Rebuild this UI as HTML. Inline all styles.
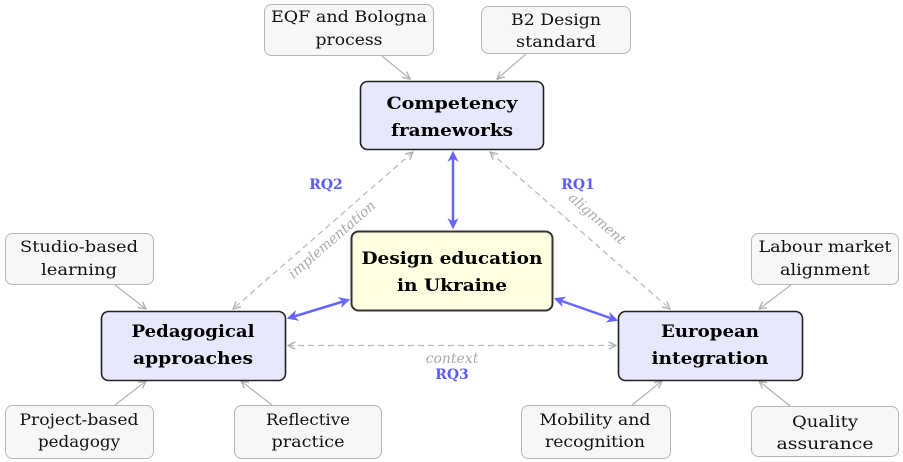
<!DOCTYPE html>
<html><head><meta charset="utf-8"><style>
html,body{margin:0;padding:0;background:#fff;}
svg{display:block;}
text{font-family:"DejaVu Serif","Liberation Serif",serif;text-anchor:middle;}
.s{font-size:16px;fill:#111;}
.b{font-size:17px;font-weight:bold;fill:#000;}
.rq{font-size:14px;font-weight:bold;fill:#5a5aff;}
.it{font-size:14px;font-style:italic;fill:#aaa;}
</style></head><body>
<svg width="903" height="462" viewBox="0 0 903 462" xmlns="http://www.w3.org/2000/svg">
<defs>
<marker id="g" viewBox="0 0 10 10" refX="9" refY="5" markerWidth="7" markerHeight="7" orient="auto-start-reverse"><path d="M1,1 L9,5 L1,9" fill="none" stroke="#b0b0b0" stroke-width="1.5"/></marker>
<marker id="bl" viewBox="0 0 10 10" refX="8" refY="5" markerWidth="4.5" markerHeight="4.5" orient="auto-start-reverse"><path d="M0,0 L10,5 L0,10 L3,5 Z" fill="#6666ff"/></marker>
</defs>
<g fill="#f7f7f7" stroke="#b5b5b5" stroke-width="1">
<rect x="264.5" y="4.5" width="169" height="51" rx="7"/>
<rect x="481.5" y="6.5" width="149" height="47" rx="7"/>
<rect x="5.5" y="233.5" width="148" height="51" rx="7"/>
<rect x="751.5" y="233.5" width="147" height="51" rx="7"/>
<rect x="5.5" y="405.5" width="148" height="53" rx="7"/>
<rect x="234.5" y="405.5" width="147" height="53" rx="7"/>
<rect x="521.5" y="405.5" width="149" height="53" rx="7"/>
<rect x="751.5" y="406.5" width="147" height="50" rx="7"/>
</g>
<g stroke="#b5b5b5" stroke-width="1.3" marker-end="url(#g)">
<line x1="382" y1="56" x2="410" y2="79"/>
<line x1="526" y1="54" x2="497" y2="79"/>
<line x1="115" y1="285" x2="146" y2="309"/>
<line x1="791" y1="285" x2="759" y2="309"/>
<line x1="115" y1="405" x2="146" y2="381"/>
<line x1="272" y1="405" x2="241" y2="381"/>
<line x1="632" y1="405" x2="662" y2="381"/>
<line x1="790" y1="406" x2="759" y2="381"/>
</g>
<g stroke="#bbb" stroke-width="1.3" stroke-dasharray="6,4" fill="none" marker-start="url(#g)" marker-end="url(#g)">
<line x1="413" y1="152" x2="233" y2="309"/>
<line x1="490" y1="152" x2="670" y2="309"/>
<line x1="288" y1="345.5" x2="616" y2="345.5"/>
</g>
<g stroke="#6666ff" stroke-width="2.5" marker-start="url(#bl)" marker-end="url(#bl)">
<line x1="453" y1="153" x2="453" y2="227"/>
<line x1="289" y1="318" x2="348" y2="300"/>
<line x1="556" y1="299" x2="616" y2="320"/>
</g>
<rect x="360.5" y="81.5" width="183" height="68" rx="7" fill="#e8e8fc" stroke="#222" stroke-width="1.6"/>
<rect x="351.5" y="231.5" width="201" height="79" rx="7" fill="#fefee0" stroke="#333" stroke-width="2"/>
<rect x="101.5" y="311.5" width="184" height="69" rx="7" fill="#e8e8fc" stroke="#222" stroke-width="1.6"/>
<rect x="618.5" y="311.5" width="184" height="69" rx="7" fill="#e8e8fc" stroke="#222" stroke-width="1.6"/>
<text class="s" x="349" y="22" textLength="156" lengthAdjust="spacingAndGlyphs">EQF and Bologna</text>
<text class="s" x="349" y="45" textLength="67" lengthAdjust="spacingAndGlyphs">process</text>
<text class="s" x="556" y="25" textLength="90" lengthAdjust="spacingAndGlyphs">B2 Design</text>
<text class="s" x="556" y="47" textLength="80" lengthAdjust="spacingAndGlyphs">standard</text>
<text class="b" x="452" y="109" textLength="131" lengthAdjust="spacingAndGlyphs">Competency</text>
<text class="b" x="452" y="136" textLength="122" lengthAdjust="spacingAndGlyphs">frameworks</text>
<text class="b" x="452" y="264" textLength="181" lengthAdjust="spacingAndGlyphs">Design education</text>
<text class="b" x="452" y="291" textLength="110" lengthAdjust="spacingAndGlyphs">in Ukraine</text>
<text class="b" x="193" y="337" textLength="123" lengthAdjust="spacingAndGlyphs">Pedagogical</text>
<text class="b" x="193" y="364" textLength="120" lengthAdjust="spacingAndGlyphs">approaches</text>
<text class="b" x="710" y="337" textLength="98" lengthAdjust="spacingAndGlyphs">European</text>
<text class="b" x="710" y="364" textLength="117" lengthAdjust="spacingAndGlyphs">integration</text>
<text class="s" x="79" y="252" textLength="118" lengthAdjust="spacingAndGlyphs">Studio-based</text>
<text class="s" x="79" y="275" textLength="76" lengthAdjust="spacingAndGlyphs">learning</text>
<text class="s" x="825" y="252" textLength="133" lengthAdjust="spacingAndGlyphs">Labour market</text>
<text class="s" x="825" y="275" textLength="90" lengthAdjust="spacingAndGlyphs">alignment</text>
<text class="s" x="79" y="425" textLength="119" lengthAdjust="spacingAndGlyphs">Project-based</text>
<text class="s" x="79" y="447" textLength="82" lengthAdjust="spacingAndGlyphs">pedagogy</text>
<text class="s" x="308" y="425" textLength="84" lengthAdjust="spacingAndGlyphs">Reflective</text>
<text class="s" x="308" y="447" textLength="73" lengthAdjust="spacingAndGlyphs">practice</text>
<text class="s" x="595" y="425" textLength="111" lengthAdjust="spacingAndGlyphs">Mobility and</text>
<text class="s" x="595" y="447" textLength="100" lengthAdjust="spacingAndGlyphs">recognition</text>
<text class="s" x="825" y="427" textLength="66" lengthAdjust="spacingAndGlyphs">Quality</text>
<text class="s" x="825" y="449" textLength="97" lengthAdjust="spacingAndGlyphs">assurance</text>
<text class="rq" x="326" y="189">RQ2</text>
<text class="rq" x="578" y="189">RQ1</text>
<text class="rq" x="452" y="379">RQ3</text>
<text class="it" x="452" y="363">context</text>
<text class="it" transform="translate(335,243) rotate(-41)" textLength="110" lengthAdjust="spacingAndGlyphs">implementation</text>
<text class="it" transform="translate(594,222) rotate(41)" textLength="70" lengthAdjust="spacingAndGlyphs">alignment</text>
</svg>
</body></html>
